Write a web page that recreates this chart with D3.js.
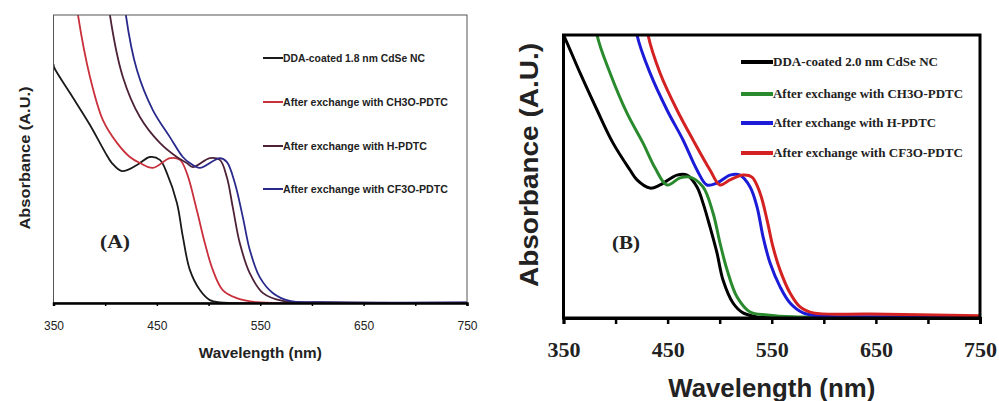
<!DOCTYPE html>
<html><head><meta charset="utf-8">
<script src="https://cdn.jsdelivr.net/npm/d3@7"></script>
<style>body{margin:0;background:#fff}svg{display:block}</style>
</head><body>
<svg id="c" width="999" height="401"></svg>
<script>
// ---------- DATA ----------
const xTicks = [350, 400, 450, 500, 550, 600, 650, 700, 750];
const xTickLabels = ["350", "", "450", "", "550", "", "650", "", "750"];

// Panel A
const seriesNamesA = ["DDA-coated 1.8 nm CdSe NC", "After exchange with CH3O-PDTC", "After exchange with H-PDTC", "After exchange with CF3O-PDTC"];
const colorsA = ["#1a1a1a", "#c9303c", "#4d2238", "#2a2a8c"];
const wlA_dda  = [350, 350.5, 366, 385.3, 399.8, 406.5, 416.2, 430.7, 443.2, 452.9, 459.7, 469.4, 475.2, 481.9, 491.6, 501.3, 511, 560, 750];
const absA_dda = [0.83, 0.819, 0.729, 0.618, 0.524, 0.486, 0.458, 0.479, 0.507, 0.497, 0.451, 0.347, 0.229, 0.115, 0.045, 0.010, 0.002, 0.0, 0.0];
const wlA_ch3o  = [367, 373.7, 385.3, 397.8, 411.4, 423.9, 433.6, 446.1, 462.6, 472.3, 479, 488.6, 496.4, 504.1, 513.7, 527.3, 546.6, 600, 750];
const absA_ch3o = [1.2, 1.0, 0.785, 0.635, 0.556, 0.507, 0.486, 0.469, 0.503, 0.497, 0.451, 0.323, 0.208, 0.115, 0.045, 0.017, 0.003, 0.001, 0.0];
const wlA_h  = [399, 404.6, 417.1, 433.6, 452.9, 469.3, 479, 484.8, 501.2, 510.9, 517.6, 523.4, 530.2, 539.8, 552.4, 571.7, 620, 750];
const absA_h = [1.2, 1.0, 0.785, 0.646, 0.556, 0.507, 0.486, 0.472, 0.503, 0.497, 0.438, 0.333, 0.208, 0.104, 0.035, 0.007, 0.002, 0.001];
const wlA_cf3o  = [415, 420, 430.7, 446.1, 462.6, 475.1, 481.9, 491.5, 510.9, 517.6, 525.4, 533.1, 539.9, 549.5, 562.1, 578.5, 607.6, 750];
const absA_cf3o = [1.2, 1.0, 0.809, 0.670, 0.576, 0.507, 0.486, 0.469, 0.503, 0.490, 0.417, 0.299, 0.184, 0.090, 0.035, 0.007, 0.003, 0.002];

// Panel B
const seriesNamesB = ["DDA-coated 2.0 nm CdSe NC", "After exchange with CH3O-PDTC", "After exchange with H-PDTC", "After exchange with CF3O-PDTC"];
const colorsB = ["#000000", "#2a8a2e", "#1c1cd8", "#d42222"];
const wlB_dda  = [347, 350, 365.9, 382.2, 397.6, 413.9, 420.6, 433.1, 442.7, 459, 468.6, 478.2, 484, 490.7, 497.4, 503.2, 512.8, 522.4, 535.9, 570, 750];
const absB_dda = [1.02, 1.0, 0.866, 0.735, 0.618, 0.523, 0.488, 0.459, 0.470, 0.505, 0.505, 0.463, 0.406, 0.322, 0.230, 0.134, 0.053, 0.018, 0.004, 0.001, 0.0];
const wlB_ch3o  = [377, 382.2, 394.7, 411, 426.4, 438, 449.4, 461.9, 471.5, 484, 493.6, 500.3, 507.1, 516.7, 529.2, 545.5, 570.5, 620, 750];
const absB_ch3o = [1.17, 1.0, 0.866, 0.724, 0.618, 0.53, 0.470, 0.495, 0.498, 0.463, 0.371, 0.265, 0.170, 0.074, 0.021, 0.011, 0.004, 0.002, 0.001];
const wlB_h  = [415.5, 420.6, 433.1, 449.4, 464.8, 478.2, 487.8, 497.4, 509.9, 519.5, 529.2, 535.9, 541.7, 548.4, 558, 567.6, 580.1, 596.4, 650, 750];
const absB_h = [1.17, 1.0, 0.866, 0.735, 0.629, 0.523, 0.470, 0.477, 0.505, 0.505, 0.463, 0.392, 0.286, 0.194, 0.110, 0.053, 0.018, 0.007, 0.004, 0.003];
const wlB_cf3o  = [426, 431.2, 442.7, 459, 474.4, 490.7, 500.3, 509.9, 522.4, 531, 538.7, 545.5, 551.2, 557.9, 567.6, 577.2, 589.7, 644.5, 750];
const absB_cf3o = [1.17, 1.0, 0.866, 0.735, 0.629, 0.523, 0.470, 0.488, 0.505, 0.498, 0.442, 0.346, 0.251, 0.170, 0.088, 0.039, 0.018, 0.014, 0.008];

// ---------- DRAW ----------
const svg = d3.select("#c");
const zip = (w, a) => w.map((v, i) => ({x: v, y: a[i]}));

function panel(cfg) {
  const x = d3.scaleLinear().domain([350, 750]).range([cfg.left, cfg.right]);
  const y = d3.scaleLinear().domain([0, 1]).range([cfg.bottom, cfg.top]);
  const g = svg.append("g");
  const clipId = "clip" + cfg.id;
  svg.append("clipPath").attr("id", clipId).append("rect")
    .attr("x", cfg.left).attr("y", cfg.top)
    .attr("width", cfg.right - cfg.left).attr("height", cfg.bottom - cfg.top);

  const line = d3.line().x(d => x(d.x)).y(d => y(d.y)).curve(d3.curveCatmullRom.alpha(0.5));
  const lines = g.append("g").attr("clip-path", `url(#${clipId})`);
  cfg.series.forEach((s, i) => {
    lines.append("path").datum(zip(s[0], s[1]))
      .attr("fill", "none").attr("stroke", cfg.colors[i])
      .attr("stroke-width", cfg.lw).attr("stroke-linejoin", "round")
      .attr("d", line);
  });

  // frame
  g.append("rect").attr("x", cfg.left).attr("y", cfg.top)
    .attr("width", cfg.right - cfg.left).attr("height", cfg.bottom - cfg.top)
    .attr("fill", "none").attr("stroke", cfg.frameColor).attr("stroke-width", cfg.frameW);

  // x axis
  const ax = g.append("g").attr("transform", `translate(0,${cfg.bottom})`)
    .call(d3.axisBottom(x).tickValues(xTicks)
      .tickFormat((d, i) => xTickLabels[i]).tickSize(cfg.tickSize).tickPadding(cfg.tickPad));
  ax.select(".domain").attr("stroke", "#000").attr("stroke-width", cfg.axisW);
  ax.selectAll(".tick line").attr("stroke", "#000").attr("stroke-width", cfg.tickW);
  ax.selectAll(".tick text").attr("font-family", cfg.tickFont).attr("font-size", cfg.tickFs)
    .attr("font-weight", cfg.tickWeight).attr("fill", cfg.textColor);

  // axis titles
  g.append("text").attr("x", (cfg.left + cfg.right) / 2).attr("y", cfg.xTitleY)
    .attr("text-anchor", "middle").attr("font-family", "Liberation Sans, Arial, sans-serif")
    .attr("font-weight", "bold").attr("font-size", cfg.titleFs).attr("fill", cfg.textColor)
    .attr("textLength", cfg.xTitleLen).attr("lengthAdjust", "spacingAndGlyphs")
    .text("Wavelength (nm)");
  g.append("text").attr("transform", `translate(${cfg.yTitleX},${cfg.yTitleCy}) rotate(-90)`)
    .attr("text-anchor", "middle").attr("font-family", "Liberation Sans, Arial, sans-serif")
    .attr("font-weight", "bold").attr("font-size", cfg.titleFs).attr("fill", cfg.textColor)
    .attr("textLength", cfg.yTitleLen).attr("lengthAdjust", "spacingAndGlyphs")
    .text("Absorbance (A.U.)");

  // legend
  cfg.names.forEach((n, i) => {
    const ly = cfg.legY[i];
    g.append("line").attr("x1", cfg.legX0).attr("x2", cfg.legX1).attr("y1", ly).attr("y2", ly)
      .attr("stroke", cfg.colors[i]).attr("stroke-width", cfg.legLW);
    g.append("text").attr("x", cfg.legX1).attr("y", ly).attr("dy", "0.35em")
      .attr("font-family", cfg.legFont).attr("font-weight", "bold").attr("font-size", cfg.legFs)
      .attr("fill", cfg.textColor)
      .attr("textLength", cfg.legLen[i]).attr("lengthAdjust", "spacingAndGlyphs")
      .text(n);
  });

  // panel label
  g.append("text").attr("x", cfg.labX).attr("y", cfg.labY).attr("dy", "0.35em")
    .attr("font-family", "Liberation Serif, Times New Roman, serif").attr("font-weight", "bold")
    .attr("font-size", cfg.labFs).attr("fill", cfg.textColor).attr("textLength", cfg.labLen)
    .attr("lengthAdjust", "spacingAndGlyphs").text(cfg.label);
}

panel({
  id: "A", left: 53.5, right: 467, top: 15, bottom: 303,
  series: [[wlA_dda, absA_dda], [wlA_ch3o, absA_ch3o], [wlA_h, absA_h], [wlA_cf3o, absA_cf3o]],
  colors: colorsA, names: seriesNamesA, lw: 1.8,
  frameColor: "#555", frameW: 1, axisW: 2.5, tickSize: 3, tickW: 1.5, tickPad: 15,
  tickFont: "Liberation Sans, Arial, sans-serif", tickFs: 12, tickWeight: "normal", textColor: "#222",
  titleFs: 15, xTitleY: 358, xTitleLen: 123, yTitleX: 30, yTitleCy: 158, yTitleLen: 143,
  legX0: 263, legX1: 283, legY: [58, 102, 146, 189], legLW: 2,
  legFont: "Liberation Sans, Arial, sans-serif", legFs: 10.5, legLen: [142, 165, 144, 165],
  labX: 100, labY: 242, labFs: 18, labLen: 30, label: "(A)"
});

panel({
  id: "B", left: 563.5, right: 980, top: 35, bottom: 318,
  series: [[wlB_dda, absB_dda], [wlB_ch3o, absB_ch3o], [wlB_h, absB_h], [wlB_cf3o, absB_cf3o]],
  colors: colorsB, names: seriesNamesB, lw: 3,
  frameColor: "#000", frameW: 3, axisW: 3, tickSize: 6, tickW: 2.5, tickPad: 17,
  tickFont: "Liberation Serif, Times New Roman, serif", tickFs: 22, tickWeight: "bold", textColor: "#222",
  titleFs: 25, xTitleY: 397, xTitleLen: 207, yTitleX: 538, yTitleCy: 165, yTitleLen: 244,
  legX0: 741, legX1: 773, legY: [62, 94, 123, 153], legLW: 4,
  legFont: "Liberation Serif, Times New Roman, serif", legFs: 12, legLen: [165, 190, 163, 190],
  labX: 612, labY: 242, labFs: 19, labLen: 28, label: "(B)"
});
</script>
</body></html>
